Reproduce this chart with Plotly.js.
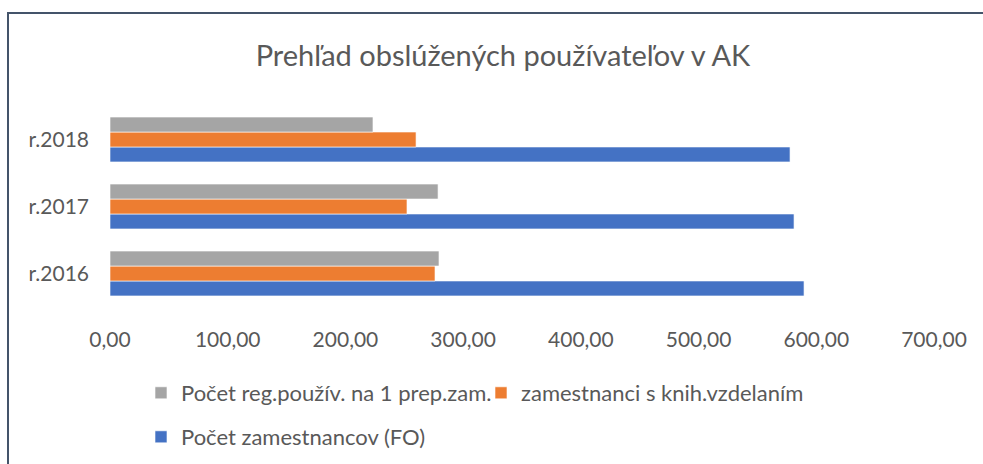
<!DOCTYPE html>
<html><head><meta charset="utf-8">
<script src="https://cdn.plot.ly/plotly-3.0.1.min.js"></script>
<style>html,body{margin:0;padding:0;background:#fff}#chart{width:983px;height:464px}</style>
</head><body><div id="chart"></div>
<script>
// ---- data ----
const categories = ['r.2016', 'r.2017', 'r.2018'];
const nameFO = 'Počet zamestnancov (FO)';
const nameKnih = 'zamestnanci s knih.vzdelaním';
const nameReg = 'Počet reg.použív. na 1 prep.zam.';
const valuesFO = [589.6, 581.1, 577.7];
const valuesKnih = [276.1, 252.3, 260.0];
const valuesReg = [279.5, 278.7, 223.4];
const xTickValues = [0, 100, 200, 300, 400, 500, 600, 700];
const chartTitle = 'Prehľad obslúžených používateľov v AK';

// ---- layout ----
const W = 983, H = 464;
const M = {l: 110, r: 49, t: 106, b: 157};
const pw = W - M.l - M.r, ph = H - M.t - M.b;
const px2x = p => (p - M.l) / pw;
const py2y = p => (H - M.b - p) / ph;
const FONT = 'Lato, "Open Sans", sans-serif';
const TXT = '#595959';

const traces = [
  {type: 'bar', orientation: 'h', name: nameFO, y: categories, x: valuesFO,
   marker: {color: '#4472C4', line: {color: '#ffffff', width: 0.6}}, legend: 'legend2'},
  {type: 'bar', orientation: 'h', name: nameKnih, y: categories, x: valuesKnih,
   marker: {color: '#ED7D31', line: {color: '#ffffff', width: 0.6}}, legend: 'legend'},
  {type: 'bar', orientation: 'h', name: nameReg, y: categories, x: valuesReg,
   marker: {color: '#A5A5A5', line: {color: '#ffffff', width: 0.6}}, legend: 'legend'}
];

const layout = {
  width: W, height: H,
  margin: M,
  paper_bgcolor: '#ffffff', plot_bgcolor: '#ffffff',
  font: {family: FONT, color: TXT, size: 21},
  separators: ', ',
  barmode: 'group', bargap: 0.33, bargroupgap: 0,
  title: {text: chartTitle, font: {family: FONT, size: 29, color: TXT},
          xref: 'container', x: 503 / W, xanchor: 'center',
          yref: 'container', y: 1 - 56 / H, yanchor: 'middle'},
  xaxis: {range: [0, 700], tickvals: xTickValues, tickformat: '.2f',
          showgrid: false, zeroline: false, showline: false, ticks: '',
          ticklabelstandoff: 18, tickfont: {size: 21, color: TXT}, fixedrange: true},
  yaxis: {type: 'category', categoryorder: 'array', categoryarray: categories,
          showgrid: false, zeroline: false, showline: false, ticks: '',
          ticklabelstandoff: 20, tickfont: {size: 21, color: TXT}, fixedrange: true},
  legend: {orientation: 'h', traceorder: 'reversed', xref: 'container', yref: 'container',
           x: 141 / W, xanchor: 'left', y: 1 - 393 / H, yanchor: 'middle',
           entrywidth: 295, entrywidthmode: 'pixels',
           font: {size: 22, color: TXT}, bgcolor: 'rgba(0,0,0,0)'},
  legend2: {orientation: 'h', xref: 'container', yref: 'container',
           x: 141 / W, xanchor: 'left', y: 1 - 437 / H, yanchor: 'middle',
           font: {size: 22, color: TXT}, bgcolor: 'rgba(0,0,0,0)'},
  shapes: [{type: 'rect', xref: 'paper', yref: 'paper',
            x0: px2x(8), x1: px2x(995), y0: py2y(480), y1: py2y(13),
            line: {color: '#44546A', width: 2}, fillcolor: 'rgba(0,0,0,0)', layer: 'below'}],
  showlegend: true
};

Plotly.newPlot('chart', traces, layout, {displayModeBar: false, staticPlot: true});
</script></body></html>
